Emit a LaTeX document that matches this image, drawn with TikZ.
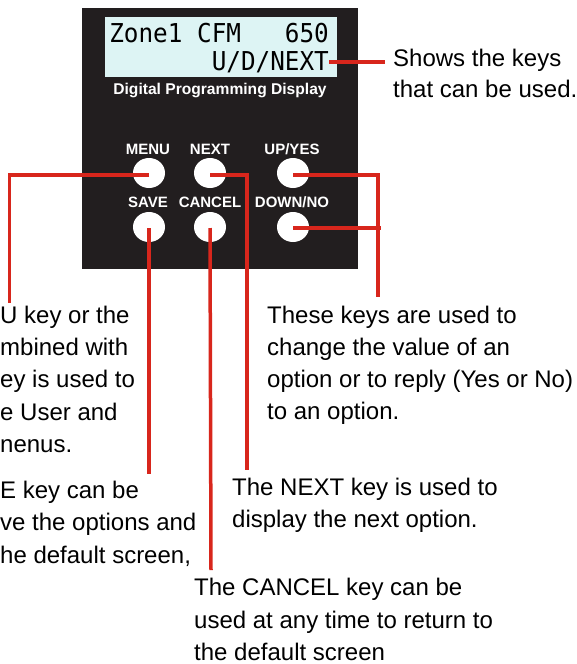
\documentclass[tikz,border=0pt]{standalone}
\usepackage{fontspec}
\setmainfont{Liberation Sans}
\newfontfamily\lcdfont{DejaVu Sans Mono}
\usetikzlibrary{shapes.geometric}
\definecolor{panelblack}{HTML}{221E1F}
\definecolor{lcdcyan}{HTML}{DDF4F4}
\definecolor{wirered}{HTML}{D8261C}
\tikzset{
  keycap/.style={draw=none, fill=white, ellipse, minimum width=32pt, minimum height=30pt, inner sep=0pt},
  keylabel/.style={text=white, font=\fontsize{15}{17}\selectfont\bfseries, anchor=base, inner sep=0pt},
  lcdtext/.style={anchor=base east, inner sep=0pt, font=\lcdfont\fontsize{24.3}{26}\selectfont},
  note/.style={anchor=base west, inner sep=0pt, font=\fontsize{24}{28}\selectfont},
  wire/.style={draw=wirered, line width=3.5pt, line join=miter},
}
\begin{document}
\begin{tikzpicture}[x=1pt,y=-1pt]
\useasboundingbox (0,0) rectangle (577,664);
\clip (0,0) rectangle (577,664);

% control panel and display window
\fill[panelblack] (82,8) rectangle (358,269);
\fill[lcdcyan] (105,17) rectangle (337,77);
\node[lcdtext] (row1) at (329,42) {\scalebox{1}[1.07]{Zone1~CFM~~~650}};
\node[lcdtext] (row2) at (329,70) {\scalebox{1}[1.07]{U/D/NEXT}};
\node[text=white, font=\fontsize{15.6}{17}\selectfont\bfseries, anchor=base, inner sep=0pt] (dpd) at (220,94) {Digital Programming Display};

% keys
\node[keycap] (kmenu) at (149,173) {};
\node[keycap] (knext) at (210,173) {};
\node[keycap] (kup)   at (293,173) {};
\node[keycap] (ksave) at (149,227) {};
\node[keycap] (kcancel) at (210,227) {};
\node[keycap] (kdown) at (293,227) {};
\node[keylabel] (lmenu) at (148,154) {MENU};
\node[keylabel] (lnext) at (210,154) {NEXT};
\node[keylabel] (lup)   at (292,154) {UP/YES};
\node[keylabel] (lsave) at (148,207) {SAVE};
\node[keylabel] (lcancel) at (210,207) {CANCEL};
\node[keylabel] (ldown) at (292,207) {DOWN/NO};

% callout texts
\node[note] (shows1) at (393,66) {Shows the keys};
\node[note] (shows2) at (393,97) {that can be used.};

\node[note] (ud1) at (267,323) {These keys are used to};
\node[note] (ud2) at (267,355) {change the value of an};
\node[note] (ud3) at (267,387) {option or to reply (Yes or No)};
\node[note] (ud4) at (267,419) {to an option.};

\node[note] (nx1) at (232,495) {The NEXT key is used to};
\node[note] (nx2) at (232,527) {display the next option.};

\node[note] (cc1) at (194,595) {The CANCEL key can be};
\node[note] (cc2) at (194,628) {used at any time to return to};
\node[note] (cc3) at (194,660) {the default screen};

% texts running in from the left edge
\node[note] (mn1) at (0,323) {U key or the};
\node[note] (mn2) at (0,355) {mbined with};
\node[note] (mn3) at (0,387) {ey is used to};
\node[note] (mn4) at (0,420) {e User and};
\node[note] (mn5) at (0,452) {nenus.};

\node[note] (sv1) at (0,498) {E key can be};
\node[note] (sv2) at (0,530) {ve the options and};
\node[note] (sv3) at (0,563) {he default screen,};

% leader ends
\coordinate (eshows) at (385,62);
\coordinate (emenu) at (9.5,303);
\coordinate (enext) at (247,470);
\coordinate (eup) at (378,297);
\coordinate (edown) at (381,228);
\coordinate (esave) at (149,474);
\coordinate (ecancel) at (211,570);

% leaders
\draw[wire] (row2.east |- 0,62) -- (eshows);
\draw[wire] (kmenu.center |- 0,175) -- (emenu |- 0,175) -- (emenu);
\draw[wire] (knext.center |- 0,175) -- (enext |- 0,175) -- (enext);
\draw[wire] (kup.center |- 0,175) -- (eup |- 0,175) -- (eup);
\draw[wire] (kdown.center |- 0,228) -- (edown);
\draw[wire] (ksave.center |- 0,228) -- (esave);
\draw[wire] (kcancel.center |- 0,228) -- (ecancel);
\end{tikzpicture}
\end{document}
